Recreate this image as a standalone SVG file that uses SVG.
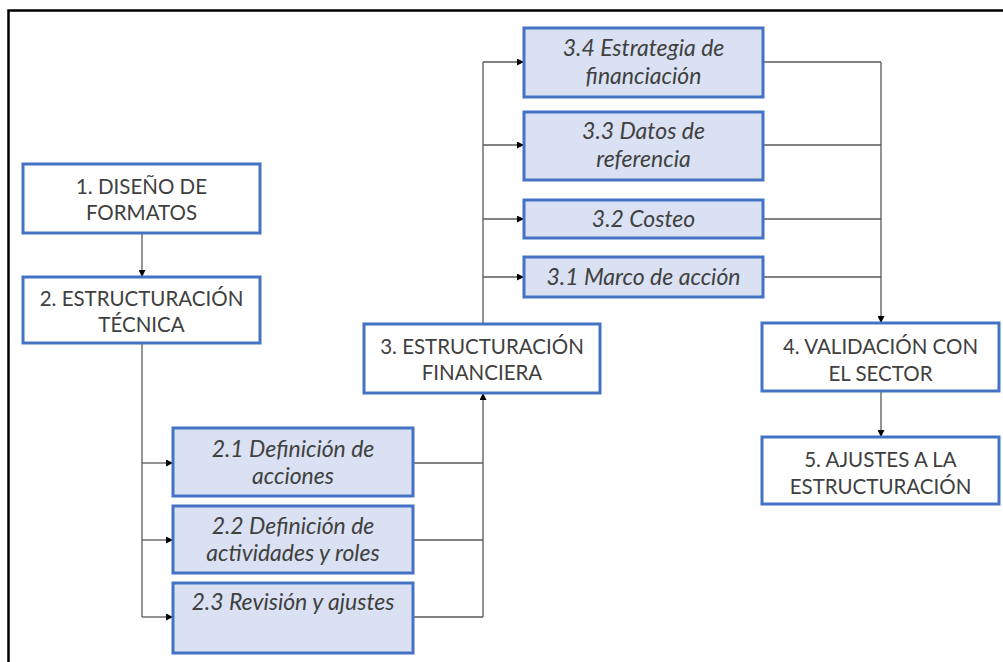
<svg xmlns="http://www.w3.org/2000/svg" width="1003" height="662" viewBox="0 0 1003 662">
<style>
.box{fill:#ffffff;stroke:#4472C4;stroke-width:3}
.sub{fill:#D9E1F2;stroke:#4472C4;stroke-width:3}
.t{font-family:Lato,"Liberation Sans",sans-serif;font-size:20.5px;fill:#404040;text-anchor:middle}
.ti{font-family:Lato,"Liberation Sans",sans-serif;font-size:23px;font-style:italic;fill:#404040;text-anchor:middle}
.c{fill:none;stroke:#595959;stroke-width:1.3}
</style>
<defs>
<marker id="ah" viewBox="0 0 10 10" refX="10" refY="5" markerWidth="7" markerHeight="7" markerUnits="userSpaceOnUse" orient="auto">
<path d="M0,0 L10,5 L0,10 z" fill="#000"/>
</marker>
</defs>
<rect x="0" y="0" width="1003" height="662" fill="#ffffff"/>
<rect x="8.5" y="10.5" width="1010" height="670" fill="none" stroke="#000" stroke-width="2.5"/>
<g id="connectors">
<path class="c" d="M142,233 V277" marker-end="url(#ah)"/>
<path class="c" d="M142,343 V617"/>
<path class="c" d="M142,463 H173" marker-end="url(#ah)"/>
<path class="c" d="M142,540 H173" marker-end="url(#ah)"/>
<path class="c" d="M142,617 H173" marker-end="url(#ah)"/>
<path class="c" d="M413,463 H483 M413,540 H483 M413,617 H483"/>
<path class="c" d="M483,617 V393" marker-end="url(#ah)"/>
<path class="c" d="M483,324 V62"/>
<path class="c" d="M483,62 H524" marker-end="url(#ah)"/>
<path class="c" d="M483,145 H524" marker-end="url(#ah)"/>
<path class="c" d="M483,219 H524" marker-end="url(#ah)"/>
<path class="c" d="M483,277 H524" marker-end="url(#ah)"/>
<path class="c" d="M763,62 H881 M763,145 H881 M763,219 H881 M763,277 H881"/>
<path class="c" d="M881,62 V323" marker-end="url(#ah)"/>
<path class="c" d="M881,391 V437" marker-end="url(#ah)"/>
</g>
<g id="n1"><rect class="box" x="23" y="164" width="237" height="69"/>
<text class="t" x="141.5" y="194">1. DISEÑO DE</text><text class="t" x="141.5" y="220">FORMATOS</text></g>
<g id="n2"><rect class="box" x="23" y="277" width="237" height="66"/>
<text class="t" x="141.5" y="306">2. ESTRUCTURACIÓN</text><text class="t" x="141.5" y="332">TÉCNICA</text></g>
<g id="n21"><rect class="sub" x="173" y="428" width="240" height="68"/>
<text class="ti" x="293" y="457">2.1 Definición de</text><text class="ti" x="293" y="484">acciones</text></g>
<g id="n22"><rect class="sub" x="173" y="506" width="240" height="67"/>
<text class="ti" x="293" y="534">2.2 Definición de</text><text class="ti" x="293" y="561">actividades y roles</text></g>
<g id="n23"><rect class="sub" x="173" y="583" width="240" height="70"/>
<text class="ti" x="293" y="610">2.3 Revisión y ajustes</text></g>
<g id="n3"><rect class="box" x="364" y="324" width="236" height="69"/>
<text class="t" x="482" y="354">3. ESTRUCTURACIÓN</text><text class="t" x="482" y="380">FINANCIERA</text></g>
<g id="n34"><rect class="sub" x="524" y="28" width="239" height="69"/>
<text class="ti" x="643.5" y="56">3.4 Estrategia de</text><text class="ti" x="643.5" y="84">financiación</text></g>
<g id="n33"><rect class="sub" x="524" y="112" width="239" height="68"/>
<text class="ti" x="643.5" y="139">3.3 Datos de</text><text class="ti" x="643.5" y="167">referencia</text></g>
<g id="n32"><rect class="sub" x="524" y="200" width="239" height="38"/>
<text class="ti" x="643.5" y="227">3.2 Costeo</text></g>
<g id="n31"><rect class="sub" x="524" y="257" width="239" height="40"/>
<text class="ti" x="643.5" y="285">3.1 Marco de acción</text></g>
<g id="n4"><rect class="box" x="762" y="323" width="237" height="68"/>
<text class="t" x="880.5" y="354">4. VALIDACIÓN CON</text><text class="t" x="880.5" y="381">EL SECTOR</text></g>
<g id="n5"><rect class="box" x="762" y="437" width="237" height="67"/>
<text class="t" x="880.5" y="467">5. AJUSTES A LA</text><text class="t" x="880.5" y="494">ESTRUCTURACIÓN</text></g>
</svg>
